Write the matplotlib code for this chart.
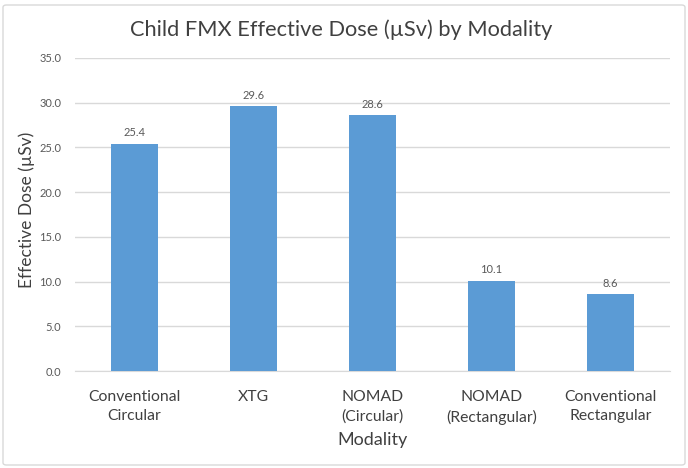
import matplotlib
matplotlib.use("Agg")
import matplotlib.pyplot as plt
from matplotlib.patches import FancyBboxPatch

categories = ["Conventional\nCircular", "XTG", "NOMAD\n(Circular)", "NOMAD\n(Rectangular)", "Conventional\nRectangular"]
values = [25.4, 29.6, 28.6, 10.1, 8.6]
yticks = [0, 5, 10, 15, 20, 25, 30, 35]

plt.rcParams['font.family'] = ['Lato', 'DejaVu Sans']
text_gray = '#595959'

fig = plt.figure(figsize=(6.88, 4.68), dpi=100)
ax = fig.add_axes([75/688, 1-371/468, 595/688, (371-58)/468])

x = list(range(len(categories)))
bars = ax.bar(x, values, width=0.4, color='#5B9BD5', zorder=3)
for xi, v in zip(x, values):
    ax.text(xi, v + 0.6, f"{v:.1f}", ha='center', va='bottom', fontsize=8, color=text_gray)

ax.set_xlim(-0.5, len(categories) - 0.5)
ax.set_ylim(0, 35)
ax.set_yticks(yticks)
ax.set_yticklabels([f"{t:.1f}" for t in yticks], fontsize=8, color=text_gray)
ax.set_xticks(x)
ax.set_xticklabels(categories, fontsize=11.3, color='#404040', linespacing=1.5)
ax.tick_params(axis='both', length=0)
ax.tick_params(axis='y', pad=10)
ax.tick_params(axis='x', pad=13.5)
ax.grid(axis='y', color='#D9D9D9', linewidth=1, zorder=0)
for s in ['top', 'right', 'left']:
    ax.spines[s].set_visible(False)
ax.spines['bottom'].set_color('#D9D9D9')

ax.set_ylabel("Effective Dose (µSv)", fontsize=12.5, color='#404040', va='center')
ax.yaxis.set_label_coords((27 - 75) / 595, (371 - 210) / 313)
ax.set_xlabel("Modality", fontsize=13, color='#404040', va='center')
ax.xaxis.set_label_coords(0.5, (371 - 440) / 313)
fig.text(341.5/688, 1-30/468, "Child FMX Effective Dose (µSv) by Modality", ha='center', va='center', fontsize=15.7, color='#404040')

border = FancyBboxPatch((3/688, 3/468), 682/688, 460/468, boxstyle="round,pad=0,rounding_size=0.005",
                        transform=fig.transFigure, fill=False, edgecolor='#D9D9D9', linewidth=1)
fig.patches.append(border)

fig.savefig("out.png", dpi=100)
